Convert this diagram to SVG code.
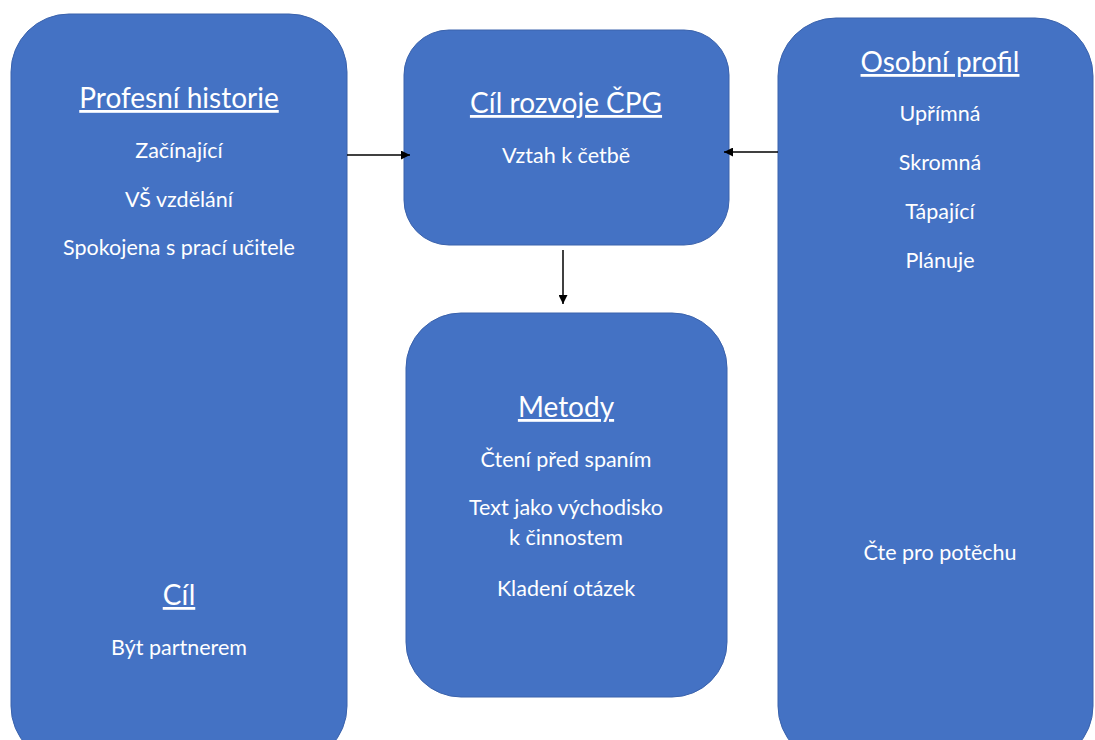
<svg xmlns="http://www.w3.org/2000/svg" width="1095" height="740" viewBox="0 0 1095 740">
<style>
.box{fill:#4472C4;stroke:#3A62AC;stroke-width:1}
.t{font-family:Lato,"Open Sans",sans-serif;fill:#fff;text-anchor:middle}
.h{font-size:28px;text-decoration:underline}
.b{font-size:21.5px}
.c{stroke:#000;stroke-width:1.5;fill:none}
</style>
<defs>
<marker id="ah" viewBox="0 0 10 10" refX="10" refY="5" markerWidth="9" markerHeight="9" markerUnits="userSpaceOnUse" orient="auto"><path d="M0,0 L10,5 L0,10 z" fill="#000"/></marker>
</defs>
<rect width="1095" height="740" fill="#fff"/>
<g id="profesni-historie">
<rect class="box" x="11" y="14" width="336" height="750" rx="58" ry="58"/>
<text class="t h" x="179" y="108">Profesní historie</text>
<text class="t b" x="179" y="158">Začínající</text>
<text class="t b" x="179" y="207">VŠ vzdělání</text>
<text class="t b" x="179" y="255">Spokojena s prací učitele</text>
<text class="t h" x="179" y="605">Cíl</text>
<text class="t b" x="179" y="655">Být partnerem</text>
</g>
<g id="cil-rozvoje">
<rect class="box" x="404" y="30" width="325" height="215" rx="45" ry="45"/>
<text class="t h" x="566" y="113">Cíl rozvoje ČPG</text>
<text class="t b" x="566" y="163">Vztah k četbě</text>
</g>
<g id="metody">
<rect class="box" x="406" y="313" width="321" height="384" rx="55" ry="55"/>
<text class="t h" x="566" y="417">Metody</text>
<text class="t b" x="566" y="467">Čtení před spaním</text>
<text class="t b" x="566" y="515">Text jako východisko</text>
<text class="t b" x="566" y="545">k činnostem</text>
<text class="t b" x="566" y="596">Kladení otázek</text>
</g>
<g id="osobni-profil">
<rect class="box" x="778" y="18" width="315" height="746" rx="58" ry="58"/>
<text class="t h" x="940" y="72">Osobní profil</text>
<text class="t b" x="940" y="121">Upřímná</text>
<text class="t b" x="940" y="170">Skromná</text>
<text class="t b" x="940" y="219">Tápající</text>
<text class="t b" x="940" y="268">Plánuje</text>
<text class="t b" x="940" y="560">Čte pro potěchu</text>
</g>
<g id="connectors">
<line class="c" x1="347" y1="155" x2="410" y2="155" marker-end="url(#ah)"/>
<line class="c" x1="778" y1="152" x2="724" y2="152" marker-end="url(#ah)"/>
<line class="c" x1="563" y1="250" x2="563" y2="304" marker-end="url(#ah)"/>
</g>
</svg>
